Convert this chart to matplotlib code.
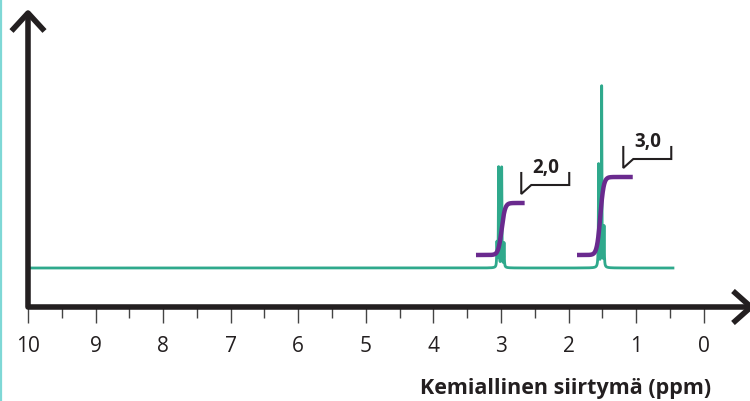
import numpy as np
import matplotlib
matplotlib.use("Agg")
import matplotlib.pyplot as plt
from matplotlib.lines import Line2D

# ---------------- data ----------------
baseline_level = 39.0          # spectrum baseline (intensity units)
spectrum_start = 10.0          # ppm
spectrum_end = 0.455           # ppm
peak_ppm = [3.06, 3.035, 2.99, 2.955, 1.555, 1.51, 1.475]
peak_height = [24, 100, 100, 24, 103, 181, 40]
peak_hwhm = 0.004

int_start = [3.37, 1.875]
int_end = [2.65, 1.05]
int_center = [2.99, 1.53]
int_values = [2.0, 3.0]
int_labels = ["2,0", "3,0"]
int_low = 52.0
int_unit = 26.0               # height per proton
int_width = 0.05

bracket_left = [2.70, 1.19]
bracket_right = [1.99, 0.48]

major_ticks = [10, 9, 8, 7, 6, 5, 4, 3, 2, 1, 0]
minor_ticks = [9.5, 8.5, 7.5, 6.5, 5.5, 4.5, 3.5, 2.5, 1.5, 0.5]
xlabel = "Kemiallinen siirtymä (ppm)"

# ---------------- style ----------------
TEAL = "#2fa98c"
PURPLE = "#6a2a8e"
DARK = "#231f20"
W, H = 750, 401
px_per_ppm = 67.57
ax_left_px, ax_bottom_px, ax_right_px, ax_top_px = 28, 307, 748, 12

plt.rcParams["font.family"] = ["Open Sans", "DejaVu Sans"]

fig = plt.figure(figsize=(W / 100, H / 100), dpi=100)
ax = fig.add_axes([ax_left_px / W, 1 - ax_bottom_px / H,
                   (ax_right_px - ax_left_px) / W,
                   (ax_bottom_px - ax_top_px) / H])
ax.set_xlim(10, 10 - (ax_right_px - ax_left_px) / px_per_ppm)
ax.set_ylim(0, ax_bottom_px - ax_top_px)
for s in ax.spines.values():
    s.set_visible(False)
ax.set_yticks([])
ax.set_xticks(major_ticks)
ax.set_xticks(minor_ticks, minor=True)
ax.set_xticklabels([str(t) for t in major_ticks])
ax.tick_params(axis="x", which="major", direction="out", length=11.5, width=1.0,
               color="#444444", labelsize=15, pad=9.5, labelcolor=DARK)
ax.tick_params(axis="x", which="minor", direction="out", length=8, width=1.0,
               color="#444444")
ax.patch.set_alpha(0)

# spectrum
x = np.linspace(spectrum_start, spectrum_end, 40000)
y = np.full_like(x, baseline_level)
for p, h in zip(peak_ppm, peak_height):
    y += h / (1 + ((x - p) / peak_hwhm) ** 2)
ax.plot(x, y, color=TEAL, lw=2.0, solid_joinstyle="round", zorder=2)

# integrals + brackets + labels
for s, e, c, v, lab, bl, br in zip(int_start, int_end, int_center, int_values,
                                   int_labels, bracket_left, bracket_right):
    xi = np.linspace(s, e, 400)
    yi = int_low + v * int_unit * 0.5 * (1 + np.tanh((c - xi) / int_width))
    ax.plot(xi, yi, color=PURPLE, lw=3.2, solid_capstyle="butt", zorder=3)
    top = int_low + v * int_unit
    diag = bl - 10 / px_per_ppm
    ax.plot([bl, bl, diag, br, br],
            [top + 30, top + 9, top + 18, top + 18, top + 30],
            color=DARK, lw=1.5, solid_joinstyle="miter", zorder=3)
    ax.text((bl + br) / 2, top + 30, lab, ha="center", va="baseline",
            fontsize=13.5, fontweight="bold", color=DARK)

ax.set_xlabel(xlabel, fontsize=15.5, fontweight="bold", color=DARK)
ax.xaxis.set_label_coords((566 - ax_left_px) / (ax_right_px - ax_left_px),
                          -(394 - ax_bottom_px) / (ax_bottom_px - ax_top_px))
ax.xaxis.label.set_va("baseline")

# axes drawn as arrows (figure pixel coords)
def fp(xp, yp):
    return xp / W, 1 - yp / H

def fline(xs, ys, **kw):
    fx, fy = zip(*[fp(a, b) for a, b in zip(xs, ys)])
    fig.add_artist(Line2D(fx, fy, transform=fig.transFigure, **kw))

axis_kw = dict(color=DARK, lw=4.0, solid_joinstyle="round", solid_capstyle="butt", zorder=5)
fline([28, 28, 751], [13, 307, 307], **axis_kw)
fline([11.5, 28, 44.5], [31, 13, 31], **axis_kw)
fline([733, 751, 733], [291, 307, 323], **axis_kw)

# left frame edge
fline([1, 1], [0, 401], color="#7fd8d6", lw=1.6, zorder=6)

fig.savefig("out.png", dpi=100)
